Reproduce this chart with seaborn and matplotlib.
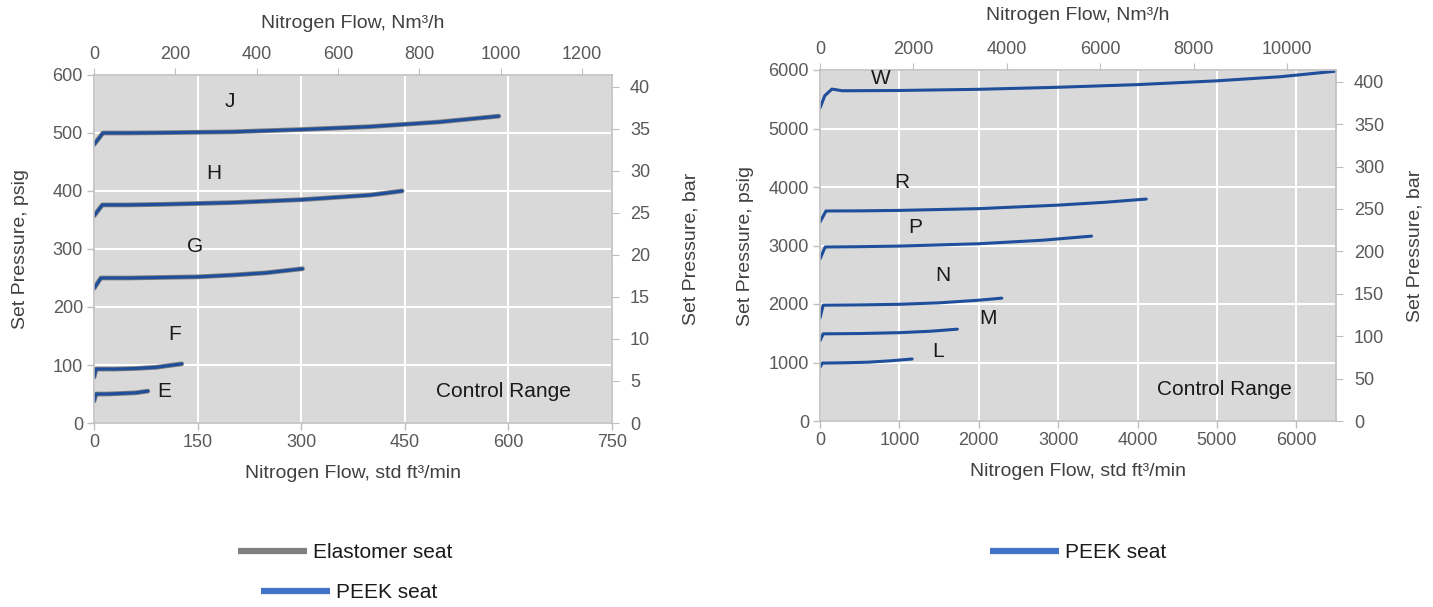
import matplotlib
matplotlib.use("Agg")
import matplotlib.pyplot as plt
from matplotlib.lines import Line2D
import seaborn as sns

# conversion factors
NM3_TO_SCFM = 0.5886
BAR_TO_PSI = 14.5

# left chart: elastomer / PEEK seat curves (std ft3/min, psig)
left_curves = {
    "J": ([0, 13, 50, 100, 200, 300, 400, 500, 586], [480, 500, 500, 500.5, 502, 506, 511, 519, 529]),
    "H": ([0, 12, 50, 100, 200, 300, 400, 446], [357, 376, 376, 377, 380, 385, 393, 400]),
    "G": ([0, 10, 50, 100, 150, 200, 250, 302], [232, 250, 250, 251, 252, 255, 259, 266]),
    "F": ([0, 3, 30, 60, 90, 127], [79, 93, 93, 94, 96, 102]),
    "E": ([0, 3, 20, 40, 60, 78], [38, 50, 50, 51, 52, 55]),
}
left_labels = {"J": (196, 555), "H": (174, 431), "G": (147, 305), "F": (117, 152), "E": (102, 55)}

# right chart: PEEK seat curves (std ft3/min, psig)
right_curves = {
    "W": ([0, 60, 150, 280, 1000, 2000, 3000, 4000, 5000, 5800, 6500],
          [5350, 5560, 5674, 5645, 5650, 5670, 5705, 5750, 5815, 5885, 5980]),
    "R": ([0, 75, 500, 1000, 2000, 3000, 3600, 4110], [3400, 3590, 3592, 3600, 3630, 3690, 3740, 3794]),
    "P": ([0, 65, 500, 1000, 2000, 2800, 3420], [2770, 2975, 2980, 2990, 3030, 3090, 3160]),
    "N": ([0, 40, 500, 1000, 1500, 2000, 2290], [1760, 1980, 1985, 1995, 2020, 2065, 2100]),
    "M": ([0, 40, 500, 1000, 1400, 1730], [1370, 1490, 1495, 1510, 1535, 1570]),
    "L": ([0, 30, 300, 600, 900, 1160], [920, 990, 995, 1005, 1030, 1060]),
}
right_labels = {"W": (770, 5860), "R": (1030, 4070), "P": (1200, 3315), "N": (1550, 2495),
                "M": (2120, 1760), "L": (1490, 1180)}

sns.set_style("whitegrid", {"axes.facecolor": "#d9d9d9", "grid.color": "white",
                            "axes.edgecolor": "#bfbfbf"})
plt.rcParams["font.family"] = ["Liberation Sans", "DejaVu Sans"]

TICK_C = "#595959"
LABEL_C = "#404040"
BLUE = "#1f4e9a"
GRAY = "#7f7f7f"

fig = plt.figure(figsize=(14.33, 6.07), dpi=100)
ax1 = fig.add_axes([94 / 1433, 1 - 423 / 607, (612 - 94) / 1433, (423 - 75) / 607])
ax2 = fig.add_axes([820 / 1433, 1 - 421 / 607, (1336 - 820) / 1433, (421 - 70) / 607])


def style_axes(ax, xlim, ylim, xticks, yticks, ttop, tright, ypad, rpad, tpad):
    ax.set_xlim(*xlim)
    ax.set_ylim(*ylim)
    ax.set_xticks(xticks)
    ax.set_yticks(yticks)
    ax.grid(True, color="white", linewidth=1.5)
    ax.tick_params(colors=TICK_C, labelsize=13, length=5, width=1, color="#bfbfbf", pad=3)
    ax.tick_params(axis="both", which="both", direction="out", bottom=True, left=True)
    for s in ax.spines.values():
        s.set_color("#bfbfbf")
        s.set_linewidth(1.2)
    top = ax.secondary_xaxis("top", functions=(lambda v: v / NM3_TO_SCFM, lambda v: v * NM3_TO_SCFM))
    top.set_xticks(ttop)
    top.tick_params(colors=TICK_C, labelsize=13, length=5, color="#bfbfbf", direction="out")
    top.spines["top"].set_visible(False)
    top.set_xlabel("Nitrogen Flow, Nm³/h", fontsize=14, color=LABEL_C, labelpad=tpad)
    right = ax.secondary_yaxis("right", functions=(lambda v: v / BAR_TO_PSI, lambda v: v * BAR_TO_PSI))
    right.set_yticks(tright)
    right.tick_params(colors=TICK_C, labelsize=13, length=5, color="#bfbfbf", direction="out", pad=8)
    right.spines["right"].set_visible(False)
    right.set_ylabel("Set Pressure, bar", fontsize=14, color=LABEL_C, labelpad=rpad)
    ax.set_xlabel("Nitrogen Flow, std ft³/min", fontsize=14, color=LABEL_C, labelpad=10)
    ax.set_ylabel("Set Pressure, psig", fontsize=14, color=LABEL_C, labelpad=ypad)


# left panel
for name, (xs, ys) in left_curves.items():
    sns.lineplot(x=xs, y=ys, ax=ax1, color=GRAY, linewidth=3.4, estimator=None, sort=False)
    sns.lineplot(x=xs, y=ys, ax=ax1, color=BLUE, linewidth=2.2, estimator=None, sort=False)
for name, (lx, ly) in left_labels.items():
    ax1.text(lx, ly, name, fontsize=15, color="#1a1a1a", ha="center", va="center")
ax1.text(593, 55, "Control Range", fontsize=15, color="#1a1a1a", ha="center", va="center")
style_axes(ax1, (0, 750), (0, 600), range(0, 751, 150), range(0, 601, 100),
           range(0, 1201, 200), range(0, 41, 5), ypad=17, rpad=23, tpad=13)

# right panel
for name, (xs, ys) in right_curves.items():
    sns.lineplot(x=xs, y=ys, ax=ax2, color=BLUE, linewidth=2.2, estimator=None, sort=False)
for name, (lx, ly) in right_labels.items():
    ax2.text(lx, ly, name, fontsize=15, color="#1a1a1a", ha="center", va="center")
ax2.text(5090, 530, "Control Range", fontsize=15, color="#1a1a1a", ha="center", va="center")
style_axes(ax2, (0, 6500), (0, 6000), range(0, 6001, 1000), range(0, 6001, 1000),
           range(0, 10001, 2000), range(0, 401, 50), ypad=10, rpad=16, tpad=15)

# legends
h_el = Line2D([], [], color="#808080", linewidth=4.5, solid_capstyle="butt")
h_pk = Line2D([], [], color="#4472c4", linewidth=4.5, solid_capstyle="butt")
fig.legend([h_el], ["Elastomer seat"], loc="center", bbox_to_anchor=(345 / 1433, 1 - 553 / 607),
           frameon=False, fontsize=15, handlelength=3.3, handletextpad=0.3, labelcolor="#1a1a1a")
fig.legend([h_pk], ["PEEK seat"], loc="center", bbox_to_anchor=(349 / 1433, 1 - 593 / 607),
           frameon=False, fontsize=15, handlelength=3.3, handletextpad=0.3, labelcolor="#1a1a1a")
fig.legend([h_pk], ["PEEK seat"], loc="center", bbox_to_anchor=(1078 / 1433, 1 - 553 / 607),
           frameon=False, fontsize=15, handlelength=3.3, handletextpad=0.3, labelcolor="#1a1a1a")

fig.savefig("out.png", dpi=100)
